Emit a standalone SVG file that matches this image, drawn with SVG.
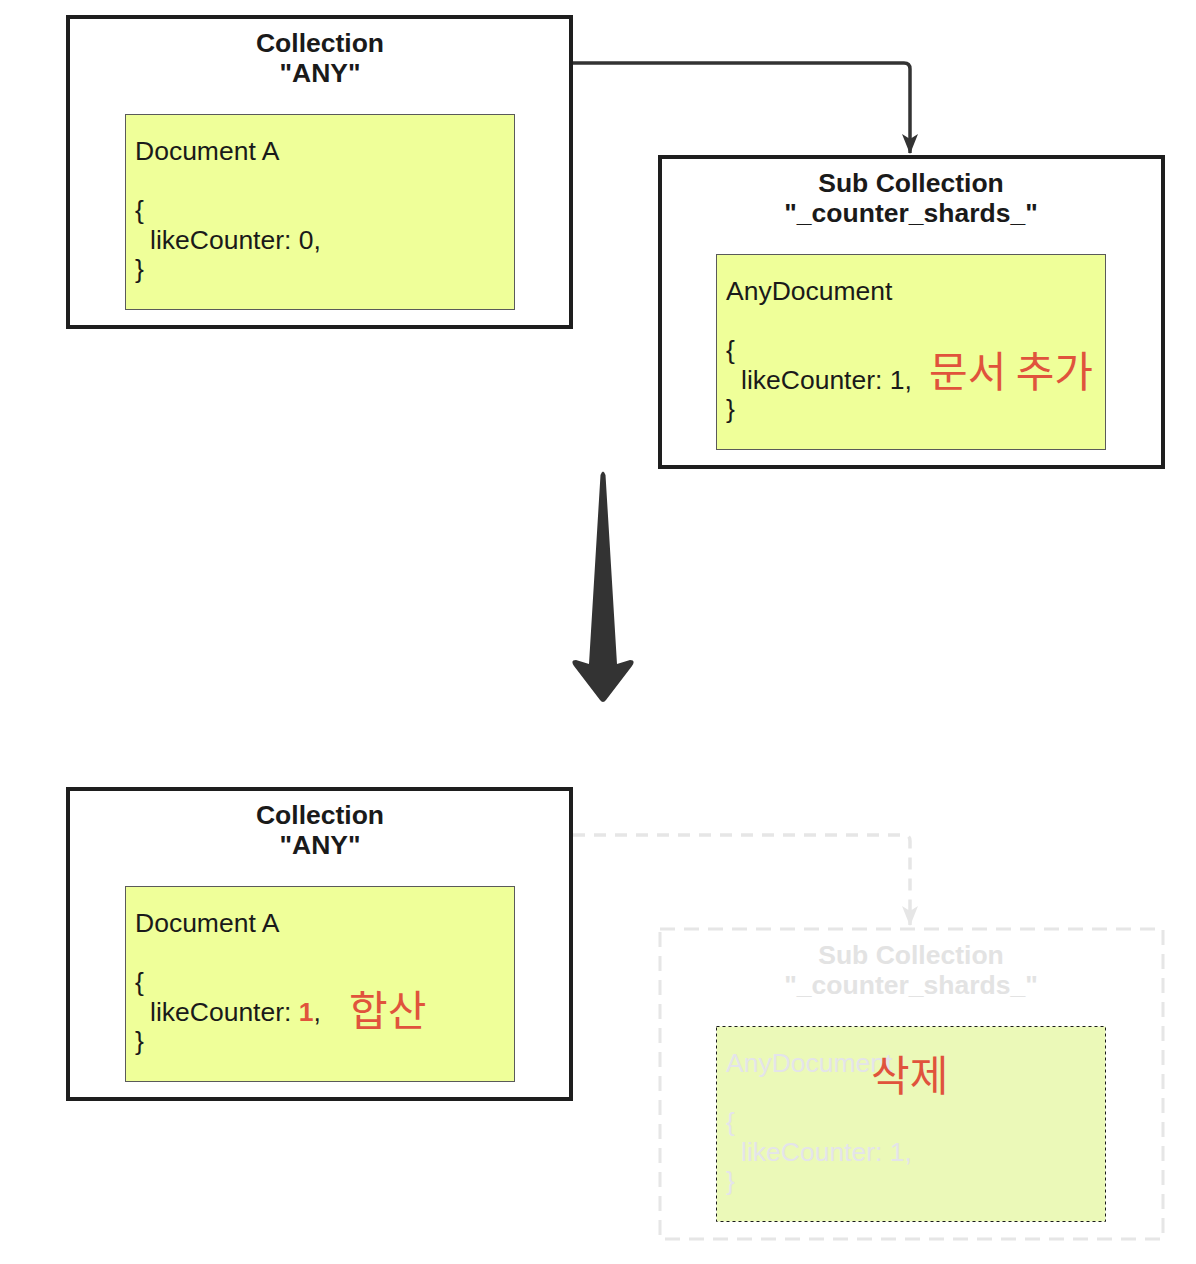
<svg xmlns="http://www.w3.org/2000/svg" width="1196" height="1264" viewBox="0 0 1196 1264">
<style>
.outer{fill:#ffffff;stroke:#1e1e1e;stroke-width:4}
.outer-faded{fill:#ffffff;stroke:#e6e6e6;stroke-width:3;stroke-dasharray:15 9}
.doc{fill:#efff99;stroke:#5a5a5a;stroke-width:1}
.doc-faded{fill:#ebf9b8;stroke:#1a1a1a;stroke-width:1;stroke-dasharray:3 3}
.title{font-family:"Liberation Sans",Arial,sans-serif;font-weight:bold;font-size:26.5px;fill:#1a1a1a;text-anchor:middle}
.title-faded{font-family:"Liberation Sans",Arial,sans-serif;font-weight:bold;font-size:26.5px;fill:#e3e3e3;text-anchor:middle}
.body{font-family:"Liberation Sans",Arial,sans-serif;font-size:26.5px;fill:#1a1a1a}
.body-faded{font-family:"Liberation Sans",Arial,sans-serif;font-size:26.5px;fill:#e4e4ea}
.note{font-family:"Noto Sans CJK KR","Noto Sans CJK SC",sans-serif;font-size:42px;fill:#e0533c}
.red{fill:#e0533c;font-weight:bold}
.conn{fill:none;stroke:#333333;stroke-width:3.5}
.conn-faded{fill:none;stroke:#e6e6e6;stroke-width:3.5;stroke-dasharray:12 9}
</style>
<defs>
<marker id="arrow" viewBox="0 0 20 16" markerWidth="20" markerHeight="16" refX="19" refY="8" orient="auto" markerUnits="userSpaceOnUse">
<path d="M0,0 L20,8 L0,16 L5,8 Z" fill="#333333"/>
</marker>
<marker id="arrow-faded" viewBox="0 0 20 16" markerWidth="20" markerHeight="16" refX="19" refY="8" orient="auto" markerUnits="userSpaceOnUse">
<path d="M0,0 L20,8 L0,16 L5,8 Z" fill="#e6e6e6"/>
</marker>
</defs>

<g id="connectors">
<path class="conn" d="M573,63 H904 Q910,63 910,69 V153" marker-end="url(#arrow)"/>
<path class="conn-faded" d="M573,835 H904 Q910,835 910,841 V925" marker-end="url(#arrow-faded)"/>
<path id="big-arrow" d="M600.5,475 Q603,468 605.5,475 L617,664 L630,660 Q636,660 632,666 L606,700 Q603,704 600,700 L574,666 Q570,660 576,660 L589,664 Z" fill="#333333"/>
</g>

<g id="collection-top">
<rect class="outer" x="68" y="17" width="503" height="310"/>
<text class="title" x="320" y="52">Collection</text>
<text class="title" x="320" y="82">"ANY"</text>
</g>
<g id="document-a-top">
<rect class="doc" x="125.5" y="114.5" width="389" height="195"/>
<text class="body" x="135" y="160">Document A</text>
<text class="body" x="135" y="219">{</text>
<text class="body" x="150" y="248.5">likeCounter: 0,</text>
<text class="body" x="135" y="278">}</text>
</g>

<g id="subcollection-top">
<rect class="outer" x="660" y="157" width="503" height="310"/>
<text class="title" x="911" y="192">Sub Collection</text>
<text class="title" x="911" y="222">"_counter_shards_"</text>
</g>
<g id="anydocument-top">
<rect class="doc" x="716.5" y="254.5" width="389" height="195"/>
<text class="body" x="726" y="300">AnyDocument</text>
<text class="body" x="726" y="359">{</text>
<text class="body" x="741" y="388.5">likeCounter: 1,</text>
<text class="body" x="726" y="418">}</text>
<text class="note" x="929" y="387">문서 추가</text>
</g>

<g id="collection-bottom">
<rect class="outer" x="68" y="789" width="503" height="310"/>
<text class="title" x="320" y="824">Collection</text>
<text class="title" x="320" y="854">"ANY"</text>
</g>
<g id="document-a-bottom">
<rect class="doc" x="125.5" y="886.5" width="389" height="195"/>
<text class="body" x="135" y="932">Document A</text>
<text class="body" x="135" y="991">{</text>
<text class="body" x="150" y="1020.5">likeCounter: <tspan class="red">1</tspan>,</text>
<text class="body" x="135" y="1050">}</text>
<text class="note" x="349" y="1026">합산</text>
</g>

<g id="subcollection-bottom">
<rect class="outer-faded" x="660" y="929" width="503" height="310"/>
<text class="title-faded" x="911" y="964">Sub Collection</text>
<text class="title-faded" x="911" y="994">"_counter_shards_"</text>
</g>
<g id="anydocument-bottom">
<rect class="doc-faded" x="716.5" y="1026.5" width="389" height="195"/>
<text class="body-faded" x="726" y="1072">AnyDocument</text>
<text class="body-faded" x="726" y="1131">{</text>
<text class="body-faded" x="741" y="1160.5">likeCounter: 1,</text>
<text class="body-faded" x="726" y="1190">}</text>
<text class="note" x="871" y="1091">삭제</text>
</g>
</svg>
